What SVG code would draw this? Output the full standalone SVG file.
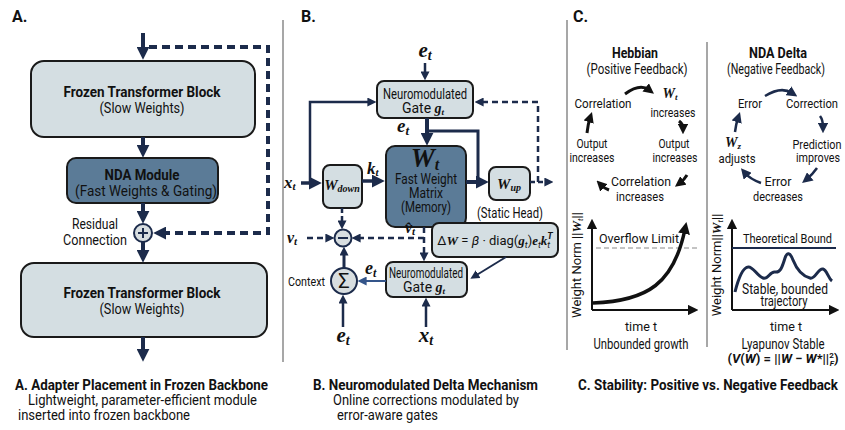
<svg xmlns="http://www.w3.org/2000/svg" width="845" height="430" viewBox="0 0 845 430">
<style>
text{font-family:Roboto,"Liberation Sans",sans-serif;fill:#111;}
.pl{font-size:16px;font-weight:bold;}
.bt{font-size:15.5px;font-weight:bold;text-anchor:middle;}
.t13{font-size:14px;text-anchor:middle;}
.t12{font-size:13px;text-anchor:middle;}
.cap{font-size:15.5px;font-weight:bold;}
.sub{font-size:14.5px;}
.m{font-family:"Liberation Serif","DejaVu Serif",serif;font-weight:bold;font-style:italic;}
.light{fill:#d4dee2;stroke:#1a1a1a;stroke-width:2;}
.dark{fill:#5b7b97;stroke:#1a1a1a;stroke-width:2;}
.circ{fill:#d8dee0;stroke:#1c2b4b;stroke-width:2;}
.nv{fill:none;stroke:#1c2b4b;}
.k{fill:none;stroke:#111;}
.dsh{stroke-dasharray:8 5;}
.div{stroke:#8a8a8a;stroke-width:1.5;}
</style>
<defs>
<marker id="ah" viewBox="0 0 10 10" refX="4" refY="5" markerWidth="13" markerHeight="13" markerUnits="userSpaceOnUse" orient="auto"><path d="M0,0 L10,5 L0,10 z" fill="#1c2b4b"/></marker>
<marker id="as" viewBox="0 0 10 10" refX="4" refY="5" markerWidth="9" markerHeight="9" markerUnits="userSpaceOnUse" orient="auto"><path d="M0,0 L10,5 L0,10 z" fill="#1c2b4b"/></marker>
<marker id="ac" viewBox="0 0 10 10" refX="4" refY="5" markerWidth="10.5" markerHeight="10.5" markerUnits="userSpaceOnUse" orient="auto"><path d="M0,0 L10,5 L0,10 z" fill="#1c2b4b"/></marker>
<marker id="ab" viewBox="0 0 10 10" refX="4" refY="5" markerWidth="9" markerHeight="9" markerUnits="userSpaceOnUse" orient="auto"><path d="M0,0 L10,5 L0,10 z" fill="#34558a"/></marker>
<marker id="ak" viewBox="0 0 10 10" refX="4" refY="5" markerWidth="10.5" markerHeight="10.5" markerUnits="userSpaceOnUse" orient="auto"><path d="M0,0 L10,5 L0,10 z" fill="#111"/></marker>
<marker id="akb" viewBox="0 0 10 10" refX="4" refY="5" markerWidth="12" markerHeight="12" markerUnits="userSpaceOnUse" orient="auto"><path d="M0,0 L10,5 L0,10 z" fill="#111"/></marker>
</defs>
<rect width="845" height="430" fill="#fff"/>

<g id="dividers">
<line x1="283" y1="20" x2="283" y2="362" class="div"/>
<line x1="567" y1="20" x2="567" y2="350" class="div"/>
<line x1="707" y1="42" x2="707" y2="347" class="div"/>
</g>

<!-- ============ Panel A ============ -->
<g id="a-label"><text x="12" y="22" class="pl">A.</text></g>
<g id="a-frozen1">
<rect x="31" y="61" width="224" height="76" rx="13" class="light"/>
<text x="142" y="97" class="bt" textLength="157" lengthAdjust="spacingAndGlyphs">Frozen Transformer Block</text>
<text x="142" y="113" class="t13" textLength="85" lengthAdjust="spacingAndGlyphs">(Slow Weights)</text>
</g>
<g id="a-nda">
<rect x="67" y="158" width="151" height="45" rx="9" class="dark"/>
<text x="142" y="180" class="bt" textLength="75" lengthAdjust="spacingAndGlyphs">NDA Module</text>
<text x="146" y="196" class="t13" font-size="14.5" textLength="142" lengthAdjust="spacingAndGlyphs">(Fast Weights &amp; Gating)</text>
</g>
<g id="a-plus">
<circle cx="143" cy="233" r="9" class="circ"/>
<path d="M138,233 H148 M143,228 V238" stroke="#1c2b4b" stroke-width="2"/>
<text x="95" y="229" class="t13" textLength="46" lengthAdjust="spacingAndGlyphs">Residual</text>
<text x="95" y="245" class="t13" textLength="64" lengthAdjust="spacingAndGlyphs">Connection</text>
</g>
<g id="a-frozen2">
<rect x="21" y="263" width="246" height="74" rx="13" class="light"/>
<text x="142" y="298" class="bt" textLength="157" lengthAdjust="spacingAndGlyphs">Frozen Transformer Block</text>
<text x="142" y="314" class="t13" textLength="85" lengthAdjust="spacingAndGlyphs">(Slow Weights)</text>
</g>
<g id="a-connectors">
<path d="M143,33 V52" class="nv" stroke-width="4" marker-end="url(#ah)"/>
<path d="M143,137 V150" class="nv" stroke-width="4" marker-end="url(#ah)"/>
<path d="M143,203 V216" class="nv" stroke-width="4" marker-end="url(#ah)"/>
<path d="M143,242 V255" class="nv" stroke-width="4" marker-end="url(#ah)"/>
<path d="M143,337 V354" class="nv" stroke-width="4" marker-end="url(#ah)"/>
<path d="M149,47 H268 V233 H161" class="nv dsh" stroke-width="4" marker-end="url(#ah)"/>
</g>
<g id="a-caption">
<text x="15" y="390" class="cap" textLength="253" lengthAdjust="spacingAndGlyphs">A. Adapter Placement in Frozen Backbone</text>
<text x="28" y="405" class="sub" textLength="229" lengthAdjust="spacingAndGlyphs">Lightweight, parameter-efficient module</text>
<text x="18" y="420" class="sub" textLength="172" lengthAdjust="spacingAndGlyphs">inserted into frozen backbone</text>
</g>

<!-- ============ Panel B ============ -->
<g id="b-label"><text x="301" y="22" class="pl">B.</text></g>
<g id="b-gate1">
<rect x="377" y="81" width="96" height="37" rx="7" class="light"/>
<text x="425" y="99" class="t13" textLength="84" lengthAdjust="spacingAndGlyphs">Neuromodulated</text>
<text x="423" y="113" class="t13">Gate <tspan class="m" font-size="14">g</tspan><tspan class="m" font-size="9" dy="2">t</tspan></text>
</g>
<g id="b-wt">
<rect x="386" y="146" width="80" height="81" rx="9" class="dark"/>
<text x="425" y="167" class="m" font-size="27" text-anchor="middle">W<tspan font-size="16" dy="3">t</tspan></text>
<text x="426" y="184" class="t13" textLength="62" lengthAdjust="spacingAndGlyphs">Fast Weight</text>
<text x="426" y="198" class="t13" textLength="34" lengthAdjust="spacingAndGlyphs">Matrix</text>
<text x="426" y="212" class="t13" textLength="50" lengthAdjust="spacingAndGlyphs">(Memory)</text>
</g>
<g id="b-wdown">
<rect x="323" y="165" width="39" height="43" rx="7" class="light"/>
<text x="342" y="190" class="m" font-size="15" text-anchor="middle">W<tspan font-size="10" dy="2">down</tspan></text>
</g>
<g id="b-wup">
<rect x="489" y="167" width="41" height="33" rx="7" class="light"/>
<text x="509" y="189" class="m" font-size="15" text-anchor="middle">W<tspan font-size="10" dy="2">up</tspan></text>
<text x="510" y="218" class="t13" textLength="66" lengthAdjust="spacingAndGlyphs">(Static Head)</text>
</g>
<g id="b-minus">
<circle cx="343" cy="238" r="8.5" class="circ"/>
<path d="M338,238 H348" stroke="#1c2b4b" stroke-width="2"/>
</g>
<g id="b-sigma">
<circle cx="344" cy="281" r="13" class="circ"/>
<text x="344" y="288" font-family="Liberation Serif,DejaVu Serif,serif" font-size="20" text-anchor="middle">Σ</text>
<text x="325" y="286" font-size="13.5" text-anchor="end" textLength="37" lengthAdjust="spacingAndGlyphs">Context</text>
</g>
<g id="b-delta">
<rect x="432" y="223" width="126" height="34" rx="7" class="light"/>
<text x="495" y="245" font-family="Liberation Serif,DejaVu Serif,serif" font-size="13" text-anchor="middle">Δ<tspan class="m">W</tspan> = <tspan font-style="italic">β</tspan> · diag(<tspan class="m">g</tspan><tspan font-size="9" dy="3" font-style="italic">t</tspan><tspan dy="-3">)</tspan><tspan class="m">e</tspan><tspan font-size="9" dy="3" font-style="italic">t</tspan><tspan class="m" dy="-3">k</tspan><tspan font-size="9" dy="3" font-style="italic">t</tspan><tspan font-size="9" dx="-3" dy="-9" font-style="italic" font-weight="bold">T</tspan></text>
</g>
<g id="b-gate2">
<rect x="386" y="262" width="81" height="35" rx="7" class="light"/>
<text x="426" y="278" class="t13" textLength="74" lengthAdjust="spacingAndGlyphs">Neuromodulated</text>
<text x="424" y="292" class="t13">Gate <tspan class="m" font-size="14">g</tspan><tspan class="m" font-size="9" dy="2">t</tspan></text>
</g>
<g id="b-labels">
<text x="425" y="57" class="m" font-size="21" text-anchor="middle">e<tspan font-size="14" dy="3">t</tspan></text>
<text x="397" y="132" class="m" font-size="19">e<tspan font-size="13" dy="3">t</tspan></text>
<text x="284" y="188" class="m" font-size="17">x<tspan font-size="11" dy="2">t</tspan></text>
<text x="367" y="174" class="m" font-size="17">k<tspan font-size="11" dy="2">t</tspan></text>
<text x="287" y="243" class="m" font-size="16">v<tspan font-size="11" dy="2">t</tspan></text>
<text x="405" y="233" class="m" font-size="16">v&#770;<tspan font-size="11" dy="2">t</tspan></text>
<text x="365" y="274" class="m" font-size="18">e<tspan font-size="12" dy="3">t</tspan></text>
<text x="343" y="342" class="m" font-size="21" text-anchor="middle">e<tspan font-size="14" dy="3">t</tspan></text>
<text x="426" y="342" class="m" font-size="21" text-anchor="middle">x<tspan font-size="14" dy="3">t</tspan></text>
</g>
<g id="b-connectors">
<path d="M425,63 V75" class="nv" stroke-width="2.5" marker-end="url(#as)"/>
<path d="M301,183 H314" class="nv" stroke-width="3.5" marker-end="url(#ah)"/>
<path d="M310,183 V102 H371" class="nv" stroke-width="2.5" marker-end="url(#as)"/>
<path d="M427,118 V138" class="nv" stroke-width="4" marker-end="url(#ah)"/>
<path d="M427,131 H478 V182" class="nv" stroke-width="3"/>
<path d="M466,182 H481" class="nv" stroke-width="4" marker-end="url(#ah)"/>
<path d="M362,181 H377" class="nv" stroke-width="3.5" marker-end="url(#ah)"/>
<path d="M530,182 H548" class="nv" stroke-width="2.5" stroke-dasharray="5 3" marker-end="url(#as)"/>
<path d="M538,182 V102 H480" class="nv" stroke-width="2.5" stroke-dasharray="6 4" marker-end="url(#as)"/>
<path d="M342,208 V224" class="nv" stroke-width="2.5" stroke-dasharray="5 3" marker-end="url(#as)"/>
<path d="M307,238 H329" class="nv" stroke-width="2.5" stroke-dasharray="6 4" marker-end="url(#as)"/>
<path d="M424,227 V256" class="nv" stroke-width="2.5" stroke-dasharray="6 4" marker-end="url(#as)"/>
<path d="M424,238 H357" class="nv" stroke-width="2.5" stroke-dasharray="6 4" marker-end="url(#as)"/>
<path d="M506,257 L475,276" class="nv" stroke-width="2" marker-end="url(#as)"/>
<path d="M386,281 H363" fill="none" stroke="#34558a" stroke-width="2" marker-end="url(#ab)"/>
<path d="M344,268 V252" class="nv" stroke-width="3" marker-end="url(#as)"/>
<path d="M343,327 V300" class="nv" stroke-width="2.5" marker-end="url(#as)"/>
<path d="M426,327 V303" class="nv" stroke-width="2.5" marker-end="url(#as)"/>
</g>
<g id="b-caption">
<text x="313" y="390" class="cap" textLength="225" lengthAdjust="spacingAndGlyphs">B. Neuromodulated Delta Mechanism</text>
<text x="333" y="405" class="sub" textLength="186" lengthAdjust="spacingAndGlyphs">Online corrections modulated by</text>
<text x="337" y="420" class="sub" textLength="101" lengthAdjust="spacingAndGlyphs">error-aware gates</text>
</g>

<!-- ============ Panel C ============ -->
<g id="c-label"><text x="573" y="22" class="pl">C.</text></g>
<g id="c-hebbian">
<text x="635" y="58" class="bt" textLength="46" lengthAdjust="spacingAndGlyphs">Hebbian</text>
<text x="637" y="74" class="t13" font-size="13.5" textLength="101" lengthAdjust="spacingAndGlyphs">(Positive Feedback)</text>
<text x="603" y="108" class="t12" textLength="57" lengthAdjust="spacingAndGlyphs">Correlation</text>
<text x="670" y="98" class="m" font-size="14" text-anchor="middle">W<tspan font-size="9" dy="2">t</tspan></text>
<text x="673" y="117" class="t12" textLength="45" lengthAdjust="spacingAndGlyphs">increases</text>
<text x="674" y="148" class="t12" textLength="31" lengthAdjust="spacingAndGlyphs">Output</text>
<text x="675" y="162" class="t12" textLength="45" lengthAdjust="spacingAndGlyphs">increases</text>
<text x="592" y="148" class="t12" textLength="31" lengthAdjust="spacingAndGlyphs">Output</text>
<text x="592" y="162" class="t12" textLength="45" lengthAdjust="spacingAndGlyphs">increases</text>
<text x="641" y="186" class="t12" textLength="60" lengthAdjust="spacingAndGlyphs">Correlation</text>
<text x="640" y="201" class="t12" textLength="48" lengthAdjust="spacingAndGlyphs">increases</text>
</g>
<g id="c-nda">
<text x="778" y="58" class="bt" textLength="58" lengthAdjust="spacingAndGlyphs">NDA Delta</text>
<text x="776" y="74" class="t13" font-size="13.5" textLength="98" lengthAdjust="spacingAndGlyphs">(Negative Feedback)</text>
<text x="750" y="108" class="t12" textLength="24" lengthAdjust="spacingAndGlyphs">Error</text>
<text x="812" y="108" class="t12" textLength="52" lengthAdjust="spacingAndGlyphs">Correction</text>
<text x="817" y="149" class="t12" textLength="49" lengthAdjust="spacingAndGlyphs">Prediction</text>
<text x="818" y="162" class="t12" textLength="44" lengthAdjust="spacingAndGlyphs">improves</text>
<text x="778" y="186" class="t12" textLength="27" lengthAdjust="spacingAndGlyphs">Error</text>
<text x="778" y="201" class="t12" textLength="50" lengthAdjust="spacingAndGlyphs">decreases</text>
<text x="733" y="147" class="m" font-size="14" text-anchor="middle">W<tspan font-size="9" dy="2">z</tspan></text>
<text x="737" y="163" class="t12" textLength="37" lengthAdjust="spacingAndGlyphs">adjusts</text>
</g>
<g id="c-cycle-arrows">
<path d="M625,94 Q640,83 649,90" class="k" stroke-width="3" marker-end="url(#ak)"/>
<path d="M679,121 Q683,124 683,128" class="k" stroke-width="3" marker-end="url(#ak)"/>
<path d="M687,175 Q684,180 680,183" class="k" stroke-width="3" marker-end="url(#ak)"/>
<path d="M609,190 Q604,188 601,185" class="k" stroke-width="3" marker-end="url(#ak)"/>
<path d="M587,133 Q588,124 590,118" class="k" stroke-width="3" marker-end="url(#ak)"/>
<path d="M765,96 Q781,86 792,93" class="nv" stroke-width="2.5" marker-end="url(#ac)"/>
<path d="M820,116 Q823,120 823,127" class="nv" stroke-width="2.5" marker-end="url(#ac)"/>
<path d="M817,168 Q812,175 807,179" class="nv" stroke-width="2.5" marker-end="url(#ac)"/>
<path d="M761,183 Q750,179 745,173" class="nv" stroke-width="2.5" marker-end="url(#ac)"/>
<path d="M735,132 Q736,124 738,118" class="nv" stroke-width="2.5" marker-end="url(#ac)"/>
</g>
<g id="c-chart-left">
<path d="M592,310 V225" class="k" stroke-width="2" marker-end="url(#ak)"/>
<path d="M592,310 H692" class="k" stroke-width="2" marker-end="url(#ak)"/>
<line x1="596" y1="248" x2="700" y2="248" stroke="#888" stroke-width="1" stroke-dasharray="5 3"/>
<text x="599" y="243" font-size="13.5" textLength="80" lengthAdjust="spacingAndGlyphs">Overflow Limit</text>
<path d="M593,303 C648,301 674,283 685,229" class="k" stroke-width="3.5" marker-end="url(#akb)"/>
<text transform="translate(581,265) rotate(-90)" font-size="13" text-anchor="middle">Weight Norm ||<tspan class="m">W</tspan><tspan font-size="8" dy="2" font-style="italic">t</tspan><tspan dy="-2">||</tspan></text>
<text x="641" y="331" class="t12" textLength="32" lengthAdjust="spacingAndGlyphs">time t</text>
<text x="641" y="349" class="t13" textLength="95" lengthAdjust="spacingAndGlyphs">Unbounded growth</text>
</g>
<g id="c-chart-right">
<path d="M732,310 V225" class="k" stroke-width="2" marker-end="url(#ak)"/>
<path d="M732,310 H833" class="k" stroke-width="2" marker-end="url(#ak)"/>
<line x1="732" y1="248" x2="836" y2="248" stroke="#1c2b4b" stroke-width="2"/>
<text x="743" y="243" font-size="13.5" textLength="89" lengthAdjust="spacingAndGlyphs">Theoretical Bound</text>
<path d="M735,292 C738,280 742,268 748,267 C753,266 757,276 763,278 C768,280 770,271 775,272 C780,273 782,268 785,258 C787,252 790,252 793,260 C797,270 802,276 810,278 C815,280 818,268 823,269 C827,270 828,278 832,281" fill="none" stroke="#1c2b4b" stroke-width="3"/>
<text x="785" y="294" class="t13" font-size="13.5" textLength="86" lengthAdjust="spacingAndGlyphs">Stable, bounded</text>
<text x="784" y="306" class="t13" font-size="13.5" textLength="47" lengthAdjust="spacingAndGlyphs">trajectory</text>
<text transform="translate(721,265) rotate(-90)" font-size="13" text-anchor="middle">Weight Norm||<tspan class="m">W</tspan><tspan font-size="8" dy="2" font-style="italic">t</tspan><tspan dy="-2">||</tspan></text>
<text x="786" y="331" class="t12" textLength="32" lengthAdjust="spacingAndGlyphs">time t</text>
<text x="783" y="349" class="t13" textLength="83" lengthAdjust="spacingAndGlyphs">Lyapunov Stable</text>
<text x="783" y="363" font-family="Liberation Serif,DejaVu Serif,serif" font-size="13" font-weight="bold" text-anchor="middle">(<tspan font-style="italic">V</tspan>(<tspan font-style="italic">W</tspan>) = ||<tspan font-style="italic">W</tspan> − <tspan font-style="italic">W</tspan>*||<tspan font-size="8" dy="-5">2</tspan><tspan font-size="8" dx="-4" dy="8" font-style="italic">F</tspan><tspan dy="-3">)</tspan></text>
</g>
<g id="c-caption">
<text x="578" y="390" class="cap" textLength="260" lengthAdjust="spacingAndGlyphs">C. Stability: Positive vs. Negative Feedback</text>
</g>
</svg>
